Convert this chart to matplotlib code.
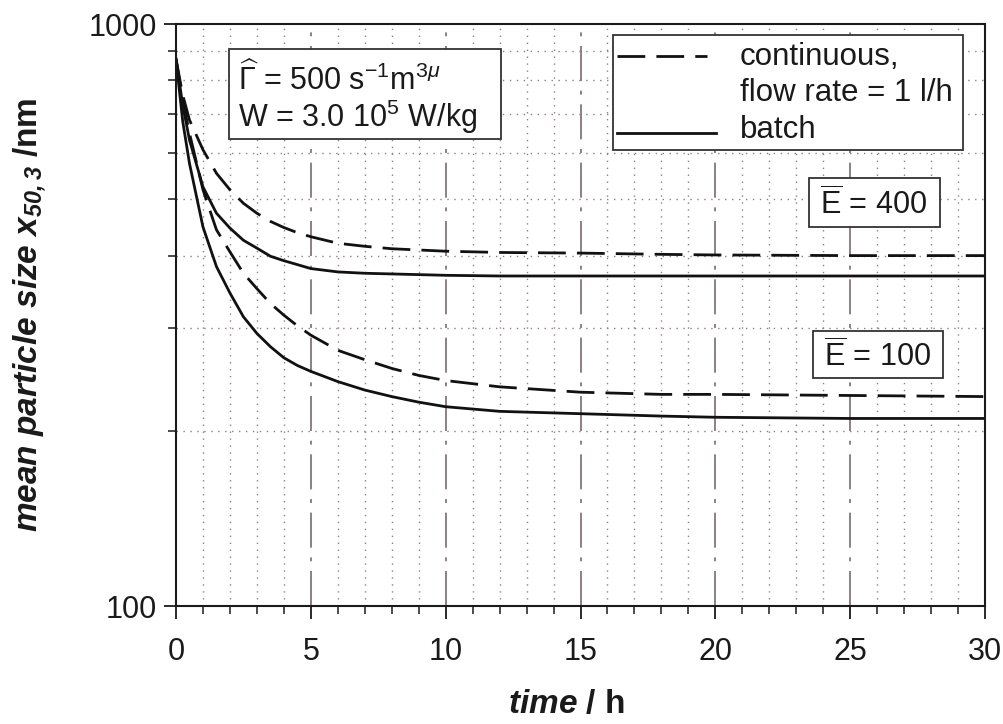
import matplotlib
matplotlib.use("Agg")
import matplotlib.pyplot as plt
from matplotlib.patches import Rectangle
from matplotlib.lines import Line2D
from matplotlib.ticker import FixedLocator, NullFormatter

plt.rcParams["font.family"] = ["Liberation Sans", "DejaVu Sans"]
plt.rcParams["mathtext.fontset"] = "custom"
plt.rcParams["mathtext.rm"] = "Liberation Sans"
plt.rcParams["mathtext.it"] = "Liberation Sans:italic"
plt.rcParams["mathtext.bf"] = "Liberation Sans:bold"
plt.rcParams["mathtext.bfit"] = "Liberation Sans:bold:italic"

# time axis (h) and particle sizes x50,3 (nm)
time_h = [0, 0.25, 0.5, 1, 1.5, 2, 2.5, 3, 3.5, 4, 4.5, 5, 6, 7, 8, 9, 10,
          12, 15, 18, 20, 25, 30]

cont_E400 = [870, 755, 684, 608, 554, 519, 492, 473, 458, 447, 438, 431, 420,
             415, 411, 409, 407, 405, 404, 402, 401, 400, 400]
batch_E400 = [870, 725, 632, 525, 473, 446, 425, 412, 399, 392, 386, 380, 375,
              373, 372, 371, 370, 369, 369, 369, 369, 369, 369]
cont_E100 = [870, 740, 649, 519, 443, 406, 373, 351, 331, 316, 303, 292, 275,
             265, 256, 249, 244, 238, 233, 231, 231, 230, 229]
batch_E100 = [870, 680, 576, 448, 383, 345, 314, 294, 279, 267, 259, 253, 243,
              235, 229, 224, 220, 216, 214, 212, 211, 210, 210]

x_ticks = [0, 5, 10, 15, 20, 25, 30]
y_ticks = [100, 1000]

fig = plt.figure(figsize=(10.04, 7.24), dpi=100)
ax = fig.add_axes([176 / 1004, 1 - 606 / 724, 809 / 1004, 582 / 724])

grid_col = "#8c8080"
ink = "#1a1a1a"
dash_style = (0, (10, 4))

ax.set_yscale("log")
ax.set_xlim(0, 30)
ax.set_ylim(100, 1000)

# minor grid: dotted, major vertical grid: dash-dot
ax.xaxis.set_minor_locator(FixedLocator([i for i in range(31) if i % 5]))
ax.yaxis.set_minor_locator(FixedLocator([200, 300, 400, 500, 600, 700, 800, 900]))
ax.yaxis.set_minor_formatter(NullFormatter())
ax.set_xticks(x_ticks)
ax.set_yticks(y_ticks)
ax.set_xticklabels([str(v) for v in x_ticks])
ax.set_yticklabels([str(v) for v in y_ticks])

for v in range(1, 30):
    if v % 5:
        ax.axvline(v, color=grid_col, lw=1.0, ls=(0, (1, 4)), zorder=0)
for v in [5, 10, 15, 20, 25]:
    ax.axvline(v, color=grid_col, lw=1.4, ls=(0, (18, 5, 2, 5)), zorder=0)
for v in [200, 300, 400, 500, 600, 700, 800, 900]:
    ax.axhline(v, color=grid_col, lw=1.0, ls=(0, (1, 4)), zorder=0)

ax.tick_params(axis="both", which="major", direction="out", length=9, width=1.3,
               labelsize=22, colors=ink)
ax.tick_params(axis="x", which="major", pad=13)
ax.tick_params(axis="y", which="major", pad=5)
ax.tick_params(axis="both", which="minor", direction="out", length=6, width=1.1,
               colors=ink)
for s in ax.spines.values():
    s.set_linewidth(1.5)
    s.set_color(ink)

lw = 2.0
ax.plot(time_h, cont_E400, color="#111111", lw=lw, ls=dash_style)
ax.plot(time_h, batch_E400, color="#111111", lw=lw)
ax.plot(time_h, cont_E100, color="#111111", lw=lw, ls=dash_style)
ax.plot(time_h, batch_E100, color="#111111", lw=lw)

# axis titles
fig.text(30 / 1004, 1 - 315 / 724,
         r"$\mathbfit{mean\ particle\ size\ x}_{\mathbfit{50,3}}$ $\mathbf{/nm}$",
         fontsize=24, rotation=90, ha="center", va="center", color=ink)
fig.text(566 / 1004, 1 - 705 / 724, r"$\mathbfit{time}$ $\mathbf{/\ h}$",
         fontsize=24, ha="center", va="center", color=ink)

box_kw = dict(transform=ax.transAxes, fill=True, facecolor="white",
              edgecolor="#333333", lw=1.3, zorder=5)
txt_kw = dict(transform=ax.transAxes, color=ink, zorder=6)

# parameter box
ax.add_patch(Rectangle((0.0655, 0.802), 0.336, 0.155, **box_kw))
ax.text(0.077, 0.905, r"$\widehat{\Gamma}$ = 500 s$^{-1}$m$^{3\mu}$",
        fontsize=22, va="center", ha="left", **txt_kw)
ax.text(0.077, 0.840, r"W = 3.0 10$^{5}$ W/kg",
        fontsize=22, va="center", ha="left", **txt_kw)

# legend box
ax.add_patch(Rectangle((0.540, 0.784), 0.433, 0.197, **box_kw))
ax.add_line(Line2D([0.545, 0.656], [0.945, 0.945], transform=ax.transAxes,
                   color="#111111", lw=lw, ls=dash_style, zorder=6))
ax.add_line(Line2D([0.545, 0.668], [0.813, 0.813], transform=ax.transAxes,
                   color="#111111", lw=lw, zorder=6))
ax.text(0.697, 0.943, "continuous,", fontsize=22.5, va="center", ha="left", **txt_kw)
ax.text(0.697, 0.881, "flow rate = 1 l/h", fontsize=22.5, va="center", ha="left",
        **txt_kw)
ax.text(0.697, 0.818, "batch", fontsize=22.5, va="center", ha="left", **txt_kw)

# energy labels
ax.add_patch(Rectangle((0.782, 0.651), 0.162, 0.084, **box_kw))
ax.text(0.8616, 0.690, r"$\overline{\mathrm{E}}$ = 400", fontsize=22,
        va="center", ha="center", **txt_kw)
ax.add_patch(Rectangle((0.787, 0.392), 0.161, 0.081, **box_kw))
ax.text(0.8665, 0.429, r"$\overline{\mathrm{E}}$ = 100", fontsize=22,
        va="center", ha="center", **txt_kw)

fig.savefig("out.png", dpi=100)
